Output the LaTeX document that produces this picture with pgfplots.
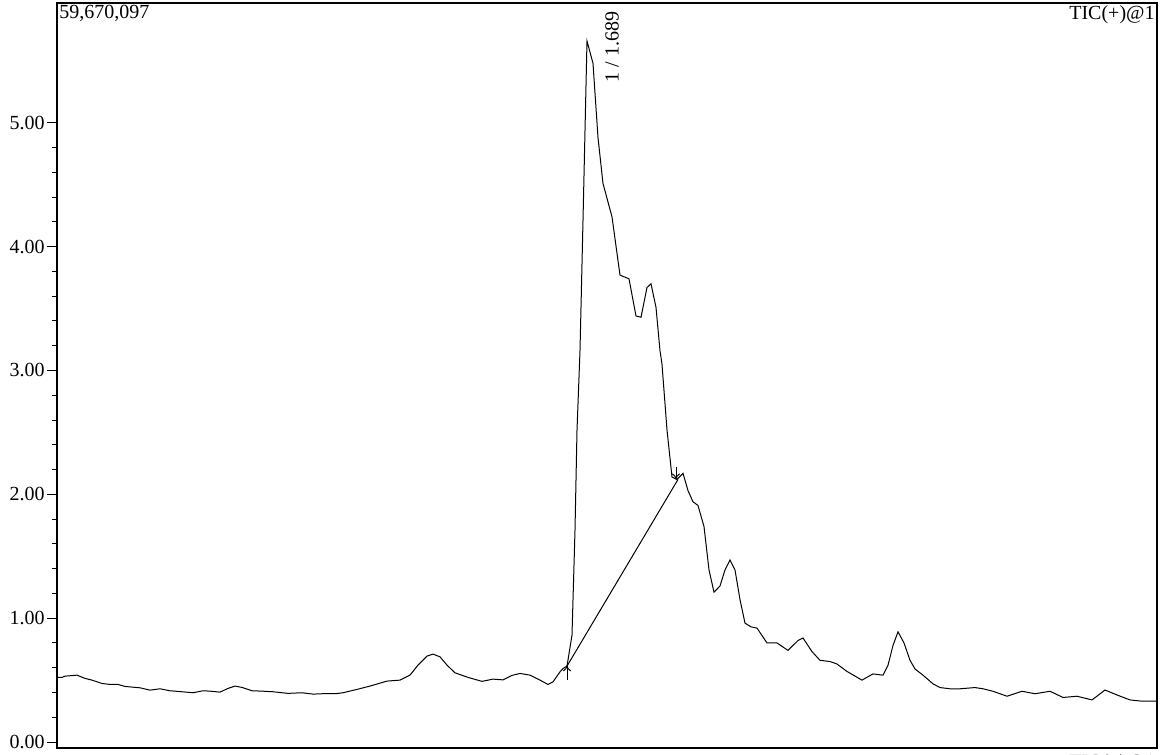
\documentclass[border=0pt]{standalone}
\usepackage{pgfplots}
\pgfplotsset{compat=1.18}
\usetikzlibrary{arrows.meta}
\usepackage{fontspec}
\setmainfont{Liberation Serif}
\begin{document}
\fontsize{10pt}{12pt}\selectfont
\begin{tikzpicture}
\begin{axis}[
  scale only axis,
  width=550pt, height=372.5pt,
  xmin=57, xmax=1157,
  ymin=-0.048, ymax=5.967,
  xtick=\empty,
  ytick={0,1,2,3,4,5},
  minor y tick num=4,
  ytick pos=left,
  tick align=outside,
  major tick length=5pt,
  minor tick length=2.6pt,
  axis line style={line width=0.6pt},
  every tick/.style={black, line width=0.5pt},
  /pgf/number format/fixed,
  /pgf/number format/fixed zerofill,
  /pgf/number format/precision=2,
  /pgf/number format/assume math mode=true,
  yticklabel style={font=\fontsize{10pt}{12pt}\selectfont, inner sep=1pt},
  clip=false,
]
\addplot[black, line width=0.5pt] coordinates {
(57,0.522) (62,0.522) (65,0.532) (77,0.540) (85,0.514) (92,0.500) (102,0.473) (110,0.465)
(118,0.465) (125,0.449) (140,0.438) (150,0.419) (160,0.430) (170,0.414) (182,0.406) (193,0.398)
(203,0.414) (210,0.411) (220,0.403) (228,0.433) (235,0.452) (242,0.441) (252,0.414) (262,0.411)
(273,0.406) (288,0.393) (302,0.398) (313,0.387) (322,0.390) (335,0.390) (343,0.398) (357,0.425)
(370,0.452) (387,0.492) (400,0.500) (410,0.540) (418,0.621) (427,0.694) (433,0.710) (440,0.688)
(447,0.621) (455,0.559) (468,0.522) (482,0.490) (493,0.508) (503,0.502) (512,0.538) (520,0.554)
(530,0.540) (540,0.500) (548,0.465) (553,0.486) (560,0.567) (563,0.594) (567,0.613) (572,0.863)
(575,1.710) (577,2.516) (580,3.16) (583,4.21) (587,5.66) (593,5.48) (598,4.88) (603,4.51)
(612,4.24) (620,3.77) (629,3.74) (636,3.44) (641,3.43) (647,3.67) (651,3.70) (656,3.51)
(660,3.16) (662,3.05) (667,2.52) (672,2.14) (677,2.12) (683,2.17) (688,2.03) (693,1.94)
(698,1.91) (704,1.74) (709,1.39) (714,1.21) (720,1.26) (725,1.39) (730,1.47) (735,1.39)
(740,1.15) (745,0.96) (751,0.93) (757,0.92) (767,0.80) (777,0.80) (788,0.74) (798,0.82)
(803,0.84) (812,0.73) (820,0.66) (830,0.65) (837,0.63) (847,0.57) (862,0.50) (873,0.55)
(883,0.54) (888,0.62) (893,0.78) (898,0.89) (904,0.80) (910,0.66) (915,0.59) (923,0.54)
(933,0.47) (940,0.44) (950,0.43) (960,0.43) (975,0.44) (983,0.43) (993,0.41) (1007,0.37)
(1022,0.41) (1035,0.39) (1050,0.41) (1063,0.36) (1077,0.37) (1092,0.34) (1105,0.42) (1117,0.38)
(1130,0.34) (1142,0.33) (1157,0.33)
};
% integration baseline
\addplot[black, line width=0.5pt] coordinates {(567,0.613) (678,2.12)};
% peak start / end markers
\addplot[black, line width=0.5pt, -{To[length=3pt,width=4pt]}] coordinates {(567,0.50) (567,0.62)};
\addplot[black, line width=0.5pt, -{To[length=3pt,width=4pt]}] coordinates {(676,2.22) (676,2.12)};
\node[rotate=90, anchor=east, inner sep=0pt] at (axis cs:612,5.90) {1 / 1.689};
\node[anchor=north west, inner sep=1pt] at (rel axis cs:0,1) {59,670,097};
\node[anchor=north east, inner sep=1pt] at (rel axis cs:1,1) {TIC(+)@1};
\node[anchor=north east, inner sep=1pt] at ([yshift=-2pt]rel axis cs:1,0) {TIC(+)@1};
\end{axis}
\pgfresetboundingbox
\path (-28.5pt,-3.5pt) rectangle (553.5pt,374pt);
\end{tikzpicture}
\end{document}
